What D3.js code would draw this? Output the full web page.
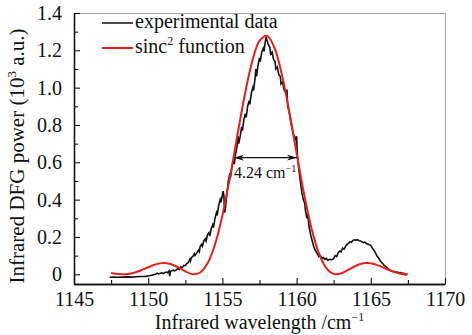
<!DOCTYPE html>
<html><head><meta charset="utf-8">
<script src="https://cdn.jsdelivr.net/npm/d3@7"></script>
<style>body{margin:0;background:#fff}svg{display:block}text{font-family:"Liberation Serif","Times New Roman",serif;fill:#111}</style>
</head><body><svg id="c" width="472" height="335"></svg>
<script>
// experimental data (wavenumber cm^-1, power 10^3 a.u.)
const expX = [1147.4,1147.7,1148.0,1148.3,1148.6,1148.9,1149.2,1149.5,1149.8,1150.1,1150.3,1150.5,1150.6,1150.7,1150.9,1151.0,1151.2,1151.3,1151.4,1151.45,1151.5,1151.7,1151.8,1152.0,1152.1,1152.2,1152.3,1152.4,1152.5,1152.6,1152.7,1152.8,1152.85,1152.9,1153.0,1153.1,1153.15,1153.3,1153.4,1153.45,1153.5,1153.6,1153.65,1153.75,1153.85,1153.9,1154.0,1154.1,1154.15,1154.25,1154.35,1154.4,1154.5,1154.6,1154.65,1154.75,1154.85,1154.9,1155.0,1155.05,1155.1,1155.15,1155.2,1155.3,1155.4,1155.5,1155.55,1155.65,1155.75,1155.8,1155.9,1156.0,1156.05,1156.1,1156.2,1156.3,1156.35,1156.45,1156.55,1156.6,1156.7,1156.8,1156.85,1156.95,1157.05,1157.1,1157.2,1157.25,1157.3,1157.4,1157.5,1157.55,1157.65,1157.75,1157.8,1157.9,1157.95,1158.0,1158.1,1158.2,1158.25,1158.35,1158.45,1158.55,1158.6,1158.7,1158.8,1158.9,1158.95,1159.05,1159.15,1159.25,1159.3,1159.35,1159.4,1159.5,1159.6,1159.65,1159.75,1159.85,1159.95,1160.0,1160.05,1160.15,1160.25,1160.35,1160.45,1160.55,1160.6,1160.7,1160.75,1160.85,1160.95,1161.05,1161.15,1161.25,1161.4,1161.5,1161.6,1161.7,1161.8,1161.9,1162.0,1162.1,1162.25,1162.4,1162.5,1162.6,1162.7,1162.8,1162.9,1163.0,1163.1,1163.2,1163.3,1163.4,1163.5,1163.6,1163.7,1163.8,1163.9,1164.0,1164.1,1164.2,1164.3,1164.4,1164.5,1164.6,1164.7,1164.8,1164.9,1165.0,1165.1,1165.2,1165.3,1165.4,1165.5,1165.6,1165.7,1165.8,1165.9,1166.0,1166.1,1166.2,1166.3,1166.4,1166.5,1166.6,1166.7,1166.8,1166.9,1167.0,1167.1,1167.2,1167.3,1167.4];
const expY = [-0.016,-0.015,-0.016,-0.015,-0.014,-0.015,-0.013,-0.012,-0.011,-0.008,-0.004,0.000,0.006,0.002,0.008,0.004,0.012,0.008,0.018,-0.010,0.016,0.022,0.018,0.030,0.026,0.040,0.036,0.048,0.046,0.058,0.062,0.080,0.070,0.090,0.094,0.110,0.100,0.118,0.130,0.122,0.150,0.160,0.150,0.180,0.190,0.178,0.212,0.222,0.205,0.245,0.265,0.250,0.300,0.330,0.315,0.370,0.400,0.385,0.425,0.445,0.420,0.330,0.350,0.430,0.500,0.540,0.520,0.580,0.610,0.590,0.650,0.690,0.740,0.700,0.740,0.790,0.770,0.830,0.860,0.840,0.900,0.930,0.910,0.970,1.000,0.985,1.050,1.100,1.060,1.120,1.160,1.140,1.190,1.210,1.195,1.250,1.270,1.255,1.230,1.215,1.180,1.190,1.150,1.140,1.100,1.110,1.070,1.060,1.020,1.030,0.990,0.975,0.960,0.990,0.900,0.870,0.820,0.800,0.760,0.740,0.720,0.740,0.640,0.560,0.500,0.440,0.400,0.380,0.340,0.300,0.320,0.250,0.210,0.180,0.150,0.130,0.110,0.095,0.100,0.085,0.090,0.080,0.085,0.075,0.080,0.078,0.085,0.100,0.095,0.115,0.125,0.120,0.140,0.135,0.150,0.160,0.165,0.175,0.172,0.182,0.185,0.182,0.186,0.180,0.178,0.175,0.170,0.172,0.165,0.162,0.158,0.155,0.140,0.130,0.118,0.100,0.090,0.078,0.065,0.058,0.048,0.042,0.035,0.028,0.022,0.018,0.014,0.016,0.010,0.012,0.008,0.009,0.004,0.006,-0.002,-0.004];
// sinc^2 fit curve
const fitX = [1147.5,1148.0,1148.5,1149.0,1149.5,1150.0,1150.5,1151.0,1151.5,1152.0,1152.5,1153.0,1153.5,1154.0,1154.5,1155.0,1155.5,1156.0,1156.5,1157.0,1157.5,1158.0,1158.5,1159.0,1159.5,1160.0,1160.5,1161.0,1161.5,1162.0,1162.5,1163.0,1163.5,1164.0,1164.5,1165.0,1165.5,1166.0,1166.5,1167.0,1167.5];
const fitY = [0.0074,0.0014,0.0004,0.0068,0.0204,0.0377,0.0531,0.0603,0.0552,0.0380,0.0157,0.0007,0.0097,0.0590,0.1600,0.3154,0.5160,0.7399,0.9580,1.1382,1.2508,1.2782,1.2151,1.0725,0.8735,0.6494,0.4311,0.2471,0.1131,0.0335,0.0021,0.0048,0.0245,0.0460,0.0588,0.0588,0.0476,0.0307,0.0143,0.0033,0.0000];
const xTicks = [1145,1150,1155,1160,1165,1170];
const xMinor = [1147.5,1152.5,1157.5,1162.5,1167.5];
const yTicks = [0,0.2,0.4,0.6,0.8,1.0,1.2,1.4];
const yMinor = [0.1,0.3,0.5,0.7,0.9,1.1,1.3];
const fwhmX = [1155.78,1160.02];
const fwhmY = 0.625;
const fwhmLabel = "4.24 cm";
const legendLabels = ["experimental data","sinc"];

const FONT = "Liberation Serif";
const svg = d3.select("#c");
const L=74,R=445,T=13,B=284;
const x = d3.scaleLinear().domain([1145,1170]).range([L,R]);
const y = d3.scaleLinear().domain([-0.052,1.4]).range([B,T]);

// frame top/right
svg.append("line").attr("x1",L).attr("x2",R).attr("y1",T+0.5).attr("y2",T+0.5).attr("stroke","#aaa").attr("stroke-width",1.2);
svg.append("line").attr("x1",R+0.5).attr("x2",R+0.5).attr("y1",T).attr("y2",B).attr("stroke","#aaa").attr("stroke-width",1.2);

// axes
const xAxis = svg.append("g").attr("transform",`translate(0,${B})`)
  .call(d3.axisBottom(x).tickValues(xTicks).tickFormat(d3.format("d")).tickSizeInner(-6).tickSizeOuter(0).tickPadding(8));
const xMin = svg.append("g").attr("transform",`translate(0,${B})`)
  .call(d3.axisBottom(x).tickValues(xMinor).tickFormat("").tickSizeInner(-4).tickSizeOuter(0));
const yAxis = svg.append("g").attr("transform",`translate(${L},0)`)
  .call(d3.axisLeft(y).tickValues(yTicks).tickFormat(d=>d===0?"0":d3.format(".1f")(d)).tickSizeInner(-6).tickSizeOuter(0).tickPadding(12));
const yMin = svg.append("g").attr("transform",`translate(${L},0)`)
  .call(d3.axisLeft(y).tickValues(yMinor).tickFormat("").tickSizeInner(-4).tickSizeOuter(0));
[xAxis,xMin,yAxis,yMin].forEach(g=>{
  g.selectAll("path").attr("stroke","#111").attr("stroke-width",1.3);
  g.selectAll("line").attr("stroke","#111").attr("stroke-width",1.1);
  g.selectAll("text").attr("font-family",FONT).attr("font-size",20).attr("fill","#111");
});
yAxis.select(".domain").attr("d",`M0.5,${B}V${T}`);
xAxis.select(".domain").attr("d",`M${L},0.5H${R}`);

// data lines
const line = d3.line().x(d=>x(d[0])).y(d=>y(d[1]));
svg.append("path").datum(expX.map((v,i)=>[v,expY[i]]))
  .attr("d",line).attr("fill","none").attr("stroke","#111").attr("stroke-width",1.6).attr("stroke-linejoin","miter");
svg.append("path").datum(fitX.map((v,i)=>[v,fitY[i]]))
  .attr("d",line.curve(d3.curveCatmullRom)).attr("fill","none").attr("stroke","#e8201c").attr("stroke-width",2);

// FWHM arrow
const defs = svg.append("defs");
["s","e"].forEach(k=>{
  defs.append("marker").attr("id","ar"+k).attr("viewBox","0 0 10 6").attr("refX",k==="e"?10:0).attr("refY",3)
    .attr("markerWidth",10).attr("markerHeight",6).attr("markerUnits","userSpaceOnUse").attr("orient","auto")
    .append("path").attr("d",k==="e"?"M0,0L10,3L0,6L3,3Z":"M10,0L0,3L10,6L7,3Z").attr("fill","#111");
});
svg.append("line").attr("x1",x(fwhmX[0])).attr("x2",x(fwhmX[1])).attr("y1",y(fwhmY)).attr("y2",y(fwhmY))
  .attr("stroke","#111").attr("stroke-width",1.2).attr("marker-start","url(#ars)").attr("marker-end","url(#are)");
const ft = svg.append("text").attr("x",x(fwhmX[0])).attr("y",y(fwhmY)+20).attr("font-size",16);
ft.append("tspan").text(fwhmLabel);
ft.append("tspan").attr("dy",-6).attr("font-size",10).text("−1");

// legend
const lg = [{c:"#111",w:1.5},{c:"#e8201c",w:2}];
lg.forEach((d,i)=>{
  const yy = 23 + i*25;
  svg.append("line").attr("x1",102).attr("x2",133).attr("y1",yy).attr("y2",yy).attr("stroke",d.c).attr("stroke-width",d.w);
  const t = svg.append("text").attr("x",135).attr("y",yy+5).attr("font-size",20);
  t.append("tspan").text(legendLabels[i]);
  if(i===1){ t.append("tspan").attr("dy",-8).attr("font-size",12).text("2"); t.append("tspan").attr("dy",8).text(" function"); }
});

// axis titles
const xt = svg.append("text").attr("x",(L+R)/2).attr("y",329).attr("text-anchor","middle").attr("font-size",20);
xt.append("tspan").text("Infrared wavelength /cm");
xt.append("tspan").attr("dy",-8).attr("font-size",12).text("−1");
const yt = svg.append("text").attr("transform","translate(24,156) rotate(-90)").attr("text-anchor","middle").attr("font-size",21);
yt.append("tspan").text("Infrared DFG power (10");
yt.append("tspan").attr("dy",-8).attr("font-size",13).text("3");
yt.append("tspan").attr("dy",8).text(" a.u.)");
</script></body></html>
